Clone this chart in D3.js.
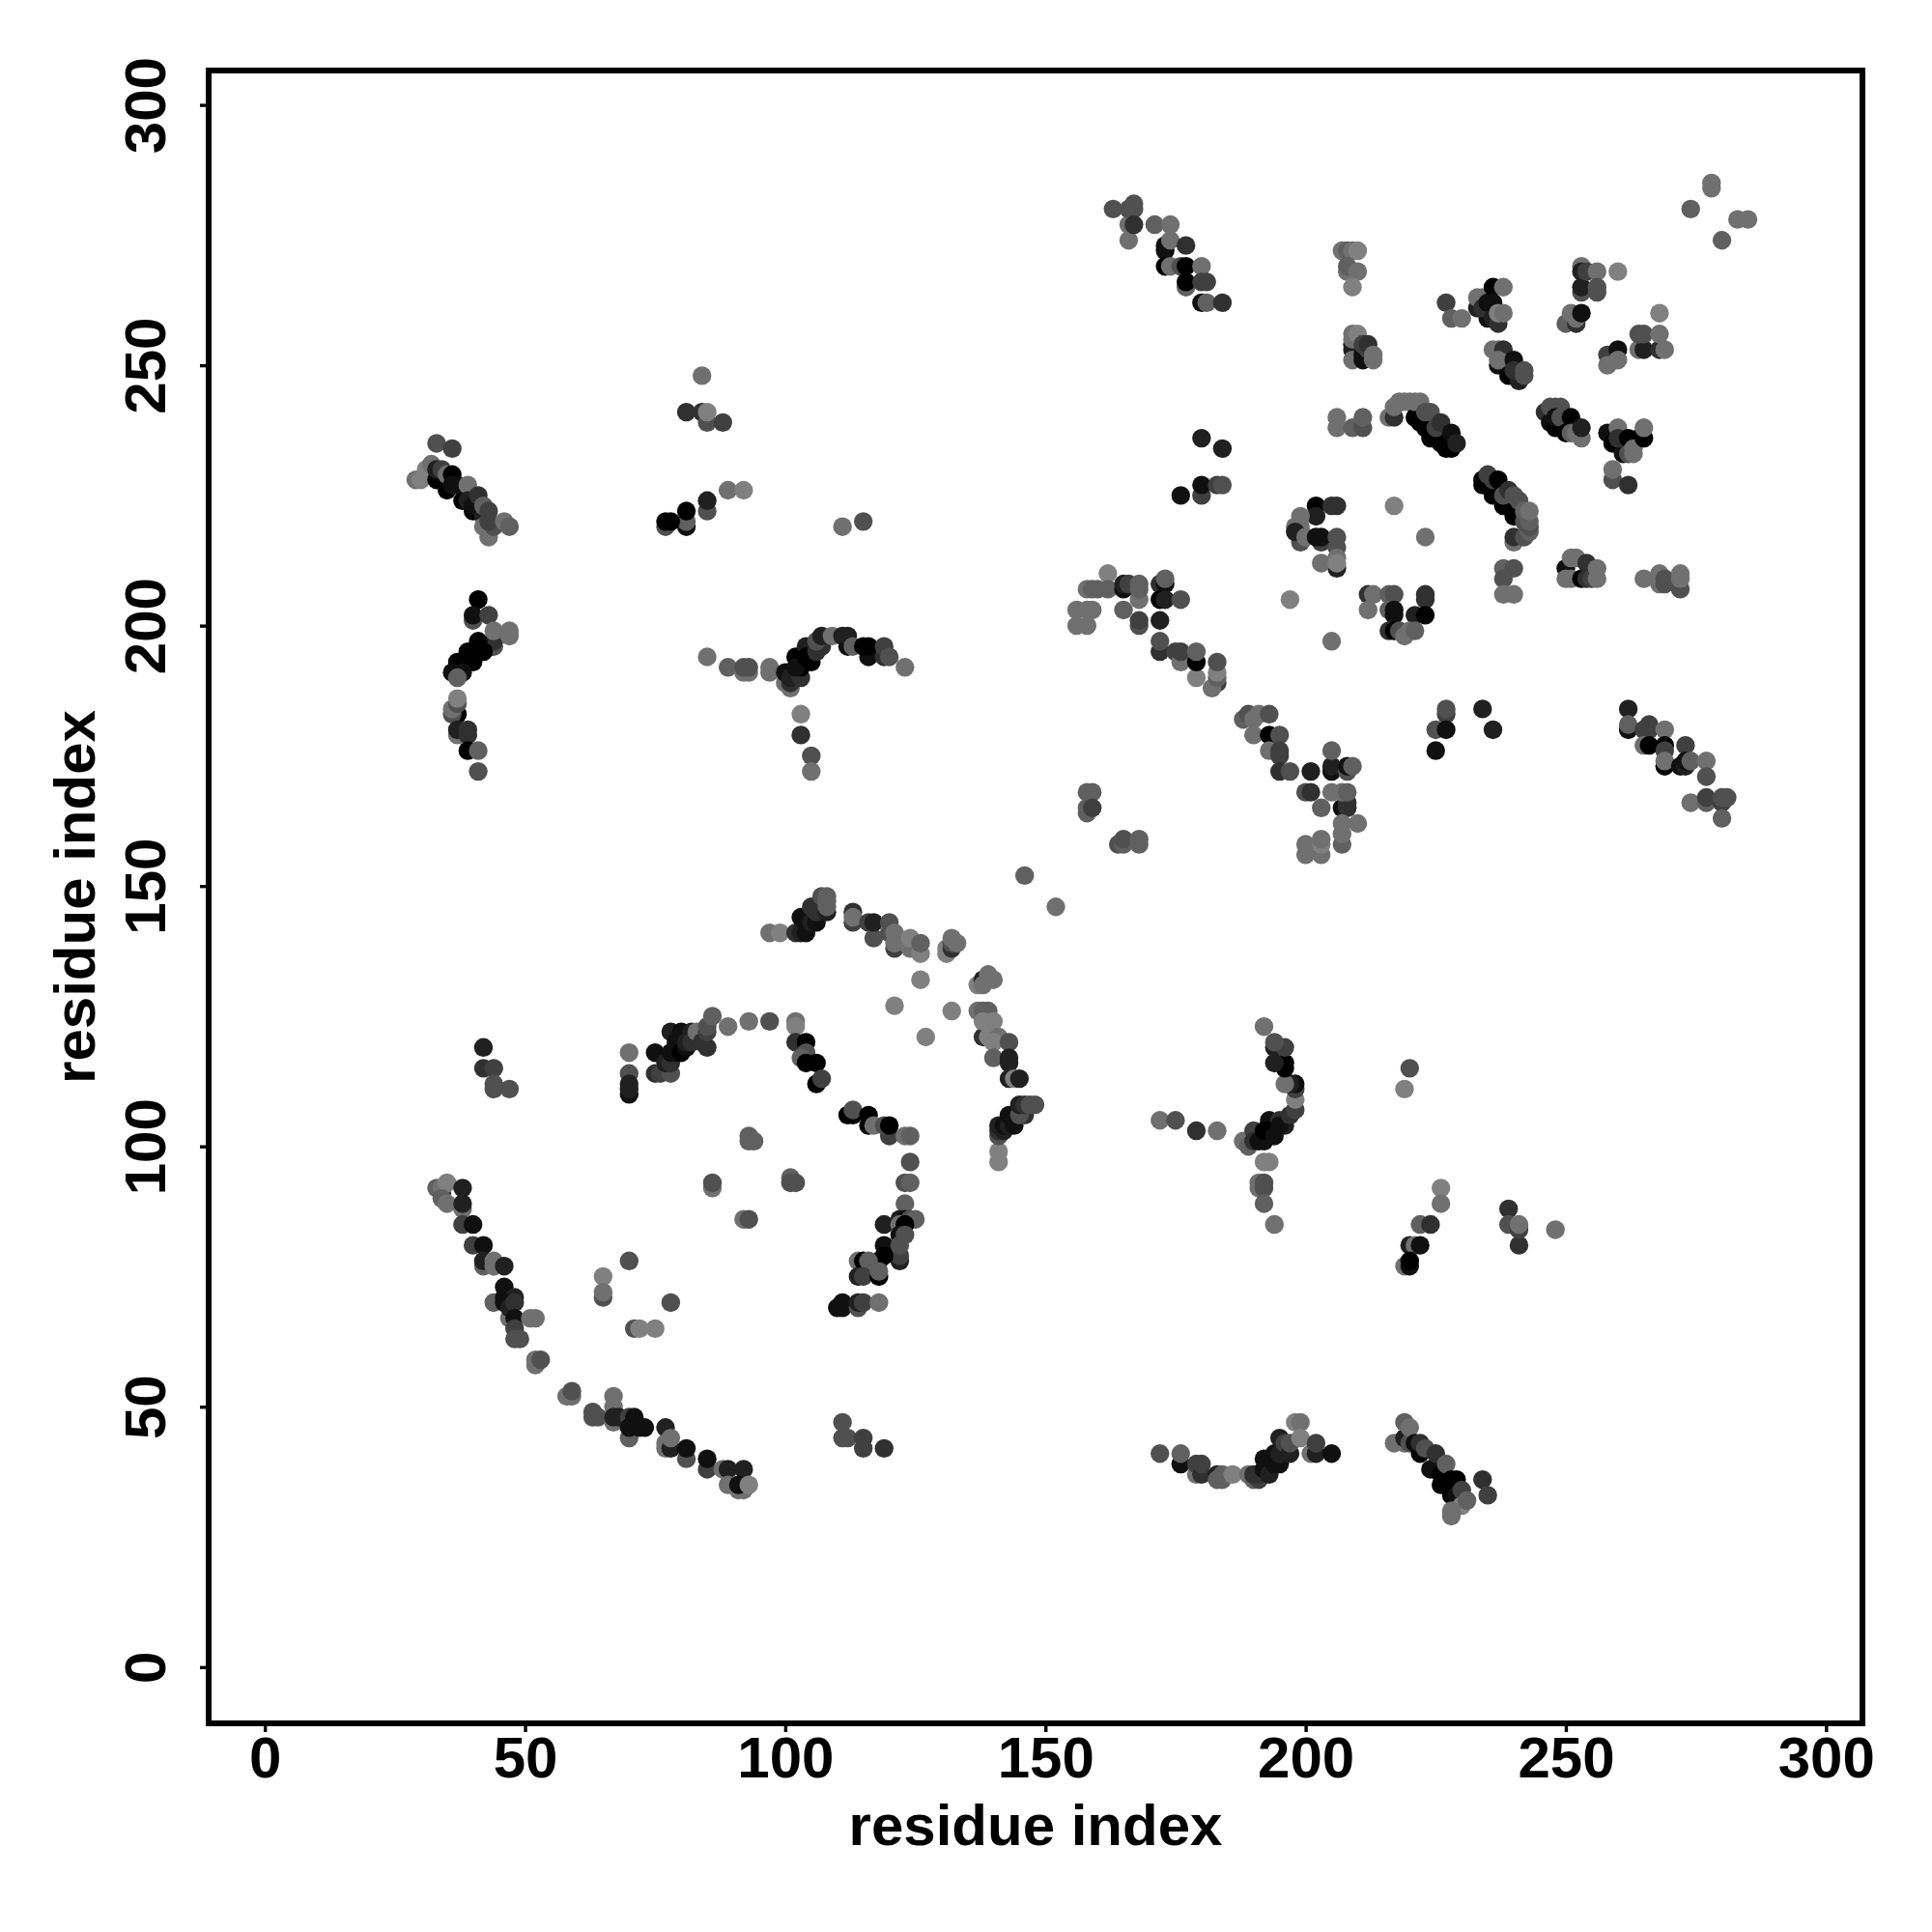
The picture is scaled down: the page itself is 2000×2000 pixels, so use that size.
<!DOCTYPE html>
<html><head><meta charset="utf-8"><style>html,body{margin:0;background:#fff}svg{display:block}</style>
<script src="https://cdn.jsdelivr.net/npm/d3@7"></script></head><body><svg id="c" width="2000" height="2000"></svg>
<script>
const tickValues = [0,50,100,150,200,250,300];
const axisTitle = "residue index";
// [residue i, residue j, contact strength 0..8]
const helixTopLeft = [[33,235,3],[36,234,4],[29,228,1],[30,228,0],[31,230,0],[32,231,1],[33,228,8],[33,230,6],[34,230,4],[35,226,8],[35,229,1],[36,229,8],[36,227,7],[38,224,8],[37,227,7],[39,227,1],[40,222,8],[39,224,6],[40,223,7],[41,225,5],[42,221,6],[42,223,2],[43,222,4],[42,219,1],[43,217,1],[44,219,3],[43,220,4],[46,220,1],[47,219,2]];
const arcLeft = [[41,205,8],[40,201,3],[40,202,7],[43,202,4],[44,196,3],[44,197,5],[44,199,1],[47,198,1],[47,199,1],[41,197,8],[42,195,8],[40,195,8],[39,193,6],[39,195,8],[40,193,8],[37,193,8],[38,191,7],[36,191,7],[37,190,2],[37,183,8],[36,183,3],[36,184,1],[37,185,3],[37,186,0],[37,179,1],[37,180,6],[39,180,5],[39,179,5],[39,176,8],[41,176,2],[41,172,3]];
const clusterUpperMid = [[84,248,1],[81,241,5],[84,241,5],[85,239,3],[85,241,0],[88,239,4],[89,226,1],[92,226,0],[85,222,3],[85,224,6],[81,219,7],[81,220,2],[81,222,8],[77,219,3],[77,220,8],[78,220,8],[111,219,1],[115,220,3]];
const arcTopMid = [[85,194,1],[89,192,2],[92,191,1],[93,191,1],[92,192,3],[93,192,3],[97,191,1],[97,192,1],[100,189,1],[101,188,1],[100,191,7],[101,189,5],[101,190,6],[102,194,8],[103,190,5],[103,192,8],[102,192,7],[105,193,8],[104,196,6],[104,194,8],[106,195,5],[107,196,5],[106,197,3],[107,198,6],[109,198,1],[111,198,6],[112,196,7],[112,198,6],[113,196,2],[116,194,7],[115,196,8],[116,196,8],[119,194,5],[119,196,4],[120,194,3],[123,192,1],[103,183,0],[103,179,5],[105,175,3],[105,172,1]];
const arcLowerLeft = [[34,91,7],[33,92,2],[34,92,1],[35,93,0],[34,90,2],[35,89,1],[38,88,1],[38,92,6],[38,89,6],[38,85,4],[40,85,7],[40,81,4],[42,81,7],[42,77,2],[42,78,6],[44,77,1],[44,78,1],[46,77,6],[44,70,2],[46,73,7],[47,67,1],[46,71,7],[48,71,6],[46,70,7],[47,69,6],[48,70,5],[48,67,7],[51,67,1],[52,67,1],[48,65,4],[48,63,3],[49,63,3],[52,58,1],[52,59,1],[53,59,3],[58,52,1],[59,52,1],[59,53,3],[63,49,3],[63,48,3],[64,48,3],[67,47,1],[67,52,1],[67,50,1],[67,48,6],[68,48,6],[70,44,2],[70,48,4],[70,46,7],[71,48,7],[71,47,7],[72,46,7],[73,46,7],[77,46,6],[77,43,1],[77,42,1],[78,42,6],[78,44,1],[81,40,3],[81,42,7],[85,38,4],[85,40,7],[88,38,1],[89,38,6],[92,38,6],[89,35,1],[91,34,1],[92,34,1],[91,35,7],[93,35,0]];
const scatterInner = [[86,92,1],[86,93,3],[101,94,2],[101,93,3],[102,93,3],[93,102,2],[93,101,2],[94,101,2],[92,86,1],[93,86,3],[65,75,0],[65,71,3],[65,72,1],[70,78,3],[78,70,3],[71,65,3],[72,65,0],[75,65,0]];
const arcInnerLower = [[112,106,8],[113,106,8],[113,107,3],[116,106,8],[116,104,8],[117,104,1],[120,102,4],[119,104,3],[120,104,8],[123,102,1],[124,102,2],[124,97,3],[123,93,3],[124,93,2],[123,89,2],[122,86,6],[123,86,7],[124,86,3],[125,86,2],[119,85,6],[122,85,1],[123,85,8],[122,83,7],[123,83,3],[119,81,7],[122,78,6],[122,79,4],[122,81,3],[119,79,8],[118,78,8],[114,78,1],[115,78,8],[116,78,2],[114,75,6],[115,75,4],[118,75,8],[118,76,2],[110,69,7],[111,69,7],[111,70,7],[114,69,3],[114,70,6],[115,70,4],[118,70,1]];
const arcOuterTop = [[97,141,1],[99,141,0],[102,141,5],[103,141,6],[104,141,7],[103,144,7],[104,143,7],[105,143,6],[106,143,7],[105,146,5],[106,145,5],[108,145,6],[107,148,3],[108,146,2],[108,147,2],[108,148,2],[113,143,4],[113,145,5],[113,144,1],[116,143,4],[117,140,3],[117,143,6],[120,143,3],[120,141,3],[121,138,4],[121,139,1],[121,141,1],[124,138,1],[124,140,0],[126,137,0],[126,139,2],[131,137,0],[131,138,0],[132,138,5],[132,139,3],[132,140,1],[133,139,1],[126,132,0],[146,152,2],[152,146,1],[121,127,0],[132,126,0],[127,121,0]];
const arcOuterRight = [[137,131,0],[138,132,6],[138,131,1],[139,133,1],[140,132,1],[137,126,1],[138,126,2],[139,126,2],[138,121,5],[138,124,0],[140,124,0],[139,121,0],[141,121,1],[140,120,0],[143,120,3],[140,117,2],[143,116,6],[143,117,6],[143,113,6],[144,113,0],[145,113,6],[141,97,0],[141,99,0],[141,102,3],[141,103,5],[142,103,6],[141,104,6],[142,104,7],[143,104,6],[144,104,7],[143,106,7],[146,106,5],[145,106,3],[145,108,6],[146,108,5],[147,108,3],[148,108,3]];
const arcInnerTop = [[70,118,1],[70,114,3],[70,110,7],[70,111,6],[70,112,6],[75,114,5],[76,114,4],[75,118,7],[78,114,3],[77,116,6],[78,116,5],[78,122,6],[78,118,7],[79,118,7],[79,120,7],[80,119,7],[80,122,7],[80,118,8],[81,119,7],[81,120,6],[82,122,6],[82,120,5],[83,121,5],[83,122,1],[84,120,5],[85,119,5],[85,122,4],[85,123,3],[86,125,2],[89,123,1],[93,124,1],[97,124,3],[102,124,1],[102,123,0],[102,120,5],[104,120,8],[104,118,3],[103,117,2],[104,116,8],[106,116,8],[106,112,8],[107,113,4],[42,119,6],[42,115,5],[44,115,4],[44,112,3],[44,111,3],[47,111,3],[111,47,3],[111,44,3],[112,44,3],[115,44,4],[115,42,4],[119,42,5]];
const arcRightMid = [[172,105,1],[175,105,3],[179,103,5],[183,103,1],[188,101,1],[189,100,2],[190,103,4],[190,101,5],[191,101,7],[192,101,7],[193,105,7],[192,103,8],[193,103,8],[194,102,7],[195,105,5],[196,105,5],[196,104,6],[195,104,7],[197,106,5],[198,107,4],[198,109,0],[198,111,4],[198,112,7],[197,112,6],[196,112,1],[196,115,8],[196,116,8],[194,116,6],[194,119,6],[196,119,4],[194,120,3],[192,123,1],[192,97,0],[193,97,0],[191,92,1],[191,93,1],[192,92,3],[192,93,3],[192,89,2],[194,85,1]];
const clusterLowerRight = [[220,115,3],[219,111,0],[226,92,0],[226,89,1],[222,85,2],[224,85,5],[220,81,6],[221,81,1],[222,81,7],[219,77,1],[220,77,7],[220,78,8],[239,88,5],[239,85,3],[241,81,5],[241,84,4],[241,85,1],[248,84,1]];
const arcBottom = [[172,41,3],[176,39,7],[176,41,2],[179,37,1],[179,39,4],[180,37,5],[180,39,4],[183,37,6],[183,36,2],[184,36,2],[184,37,2],[186,37,0],[189,37,1],[190,36,2],[191,36,4],[190,37,5],[191,37,5],[192,38,7],[192,40,7],[193,37,6],[194,39,7],[194,41,7],[195,39,7],[195,41,6],[195,44,6],[196,43,4],[197,41,6],[197,43,3],[198,47,0],[199,47,1],[199,44,0],[201,41,1],[202,41,6],[202,43,4],[205,41,7]];
const helixBottomRight = [[217,43,1],[219,43,1],[219,44,6],[219,47,2],[220,43,3],[220,46,1],[221,43,7],[222,41,8],[222,43,5],[223,42,3],[224,38,7],[225,41,5],[226,35,8],[226,37,8],[227,39,2],[228,33,8],[228,36,8],[229,36,8],[229,33,7],[230,34,4],[230,31,0],[231,32,2],[228,29,1],[228,30,1],[234,36,5],[235,33,4]];
const helixTop = [[163,280,3],[166,277,1],[166,274,1],[166,280,3],[167,280,3],[167,281,3],[167,277,5],[171,277,2],[174,277,1],[173,272,7],[173,273,7],[174,274,1],[177,273,5],[173,269,8],[174,269,1],[176,269,3],[177,265,2],[177,269,8],[180,269,1],[177,266,8],[180,266,4],[181,266,4],[180,262,7],[181,262,2],[184,262,5],[180,236,6],[184,234,6],[176,225,7],[180,225,4],[180,227,7],[183,227,4],[184,227,3]];
const blockUpperRight = [[207,272,1],[208,272,2],[209,272,1],[210,272,0],[208,268,1],[208,269,2],[210,268,1],[209,265,0],[209,254,7],[209,253,6],[209,251,1],[209,255,1],[209,256,1],[210,256,0],[211,251,7],[211,252,7],[211,254,4],[212,253,4],[212,254,5],[213,251,1],[213,252,1],[206,238,1],[206,240,1],[209,238,2],[211,238,3],[211,240,2]];
const helixCentral = [[216,240,1],[217,240,5],[217,242,1],[218,243,1],[219,243,1],[220,243,1],[221,240,8],[222,239,8],[221,243,1],[222,243,1],[223,238,8],[224,236,8],[226,235,8],[227,234,8],[223,241,3],[224,241,3],[225,238,4],[226,239,5],[228,234,8],[228,237,7],[229,235,6],[217,223,0],[223,217,1]];
const clusterTopRight = [[227,262,4],[228,259,2],[230,259,1],[233,261,6],[235,259,7],[233,263,1],[234,263,1],[234,261,5],[235,262,7],[236,265,8],[236,259,6],[236,262,7],[237,258,5],[238,265,1],[237,260,0],[238,260,1],[237,250,7],[238,251,6],[236,253,1],[237,253,1],[238,253,5],[237,251,1],[240,251,7],[239,248,8],[241,247,6],[240,249,5],[242,248,3],[242,249,3],[253,264,3],[253,265,6],[253,269,1],[253,268,6],[254,268,4],[256,268,1],[260,268,0],[256,264,3],[256,265,3],[250,258,2],[251,260,1],[252,258,5],[252,259,1],[253,260,7],[258,252,4],[258,250,1],[260,253,7],[260,251,1],[264,253,1],[265,253,6],[264,256,3],[265,256,3],[268,253,5],[268,256,1],[269,253,1],[268,260,0],[274,280,2],[278,284,1],[278,285,1],[280,274,2],[283,278,1],[285,278,1]];
const helixRight = [[246,241,5],[247,239,7],[248,238,8],[247,242,3],[248,242,3],[249,242,3],[248,240,7],[249,240,3],[250,237,8],[251,240,8],[251,237,2],[252,237,1],[253,236,1],[253,238,6],[258,237,7],[259,235,8],[261,233,7],[260,238,1],[260,236,5],[264,236,8],[262,236,8],[262,233,3],[263,233,1],[263,234,1],[265,236,8],[265,238,1],[259,228,3],[259,230,1],[262,227,5]];
const helixDiagonal = [[234,227,8],[234,228,8],[235,229,4],[236,225,8],[236,228,4],[237,228,8],[238,223,8],[238,225,3],[239,226,5],[240,221,8],[240,225,3],[241,224,3],[240,216,1],[240,217,5],[242,217,3],[243,218,2],[243,219,3],[242,220,3],[243,220,2],[242,222,2],[243,222,1],[238,211,2],[240,211,3],[238,209,3],[238,206,1],[240,206,1]];
const blockRight = [[250,211,7],[251,213,1],[252,213,1],[250,209,1],[251,209,1],[253,209,8],[254,212,5],[254,209,5],[255,209,4],[256,211,1],[256,209,1],[265,209,1],[268,210,1],[268,208,1],[269,208,3],[269,209,3],[272,207,3],[272,209,1],[272,210,1]];
const blockMid = [[202,223,8],[202,221,6],[205,223,5],[206,223,5],[199,221,1],[198,219,1],[199,219,1],[199,216,3],[198,218,6],[200,217,1],[203,216,4],[202,217,7],[203,217,7],[206,217,3],[206,215,3],[206,211,6],[203,212,1],[206,213,1],[206,212,0],[197,205,0]];
const helixLong = [[162,210,0],[158,207,1],[159,207,2],[160,207,2],[162,207,2],[165,207,7],[165,208,6],[166,208,4],[168,205,1],[168,207,2],[168,208,2],[165,203,2],[168,200,3],[168,201,4],[172,208,5],[173,208,7],[173,209,2],[172,205,8],[173,205,6],[176,205,3],[172,201,6],[156,203,1],[158,203,1],[159,203,1],[156,200,1],[158,200,1],[172,195,5],[172,197,3],[175,195,4],[176,193,1],[176,195,4],[179,190,0],[179,193,8],[179,195,2],[183,189,4],[182,188,1],[183,190,2],[183,191,0],[183,193,3],[188,182,2],[189,183,3],[190,182,1],[191,183,1],[193,183,3],[190,179,1],[193,179,8],[195,179,3],[193,176,1],[195,175,4],[195,176,4],[195,172,5],[197,172,3],[201,172,6],[205,172,7],[205,173,6],[205,176,2],[208,172,3],[208,173,7],[209,173,2],[200,168,3],[201,168,5],[205,168,1],[207,165,7],[208,165,5],[208,166,5],[207,168,1],[208,168,2],[203,165,2],[210,162,1],[207,158,2],[207,160,1],[207,162,1],[200,156,1],[200,158,1],[203,156,1],[203,158,0],[203,159,1],[158,164,2],[158,165,2],[158,168,2],[159,168,2],[159,165,4],[164,158,3],[165,158,2],[165,159,3],[168,158,2],[168,159,2]];
const blockInner = [[212,206,5],[213,206,1],[216,206,2],[217,206,3],[212,203,1],[216,203,2],[217,202,7],[217,203,7],[221,202,6],[223,205,5],[223,206,5],[223,202,8],[216,199,5],[217,199,8],[218,199,3],[219,198,1],[220,199,1],[221,199,2],[205,197,1],[227,183,4],[227,184,3],[225,180,3],[227,180,7],[225,176,7],[234,184,6],[236,180,6]];
const helixFarRight = [[262,184,6],[262,180,7],[262,181,2],[265,180,4],[266,180,4],[266,181,4],[265,177,1],[266,177,8],[269,180,1],[269,177,8],[269,173,8],[269,176,4],[269,174,1],[273,177,4],[272,173,7],[273,173,6],[273,174,7],[274,174,2],[277,174,1],[277,171,3],[274,166,1],[277,166,2],[277,167,4],[280,166,4],[280,167,3],[281,167,3],[280,163,2]];

const contacts = [helixTopLeft,arcLeft,clusterUpperMid,arcTopMid,arcLowerLeft,scatterInner,arcInnerLower,arcOuterTop,arcOuterRight,arcInnerTop,arcRightMid,clusterLowerRight,arcBottom,helixBottomRight,helixTop,blockUpperRight,helixCentral,clusterTopRight,helixRight,helixDiagonal,blockRight,blockMid,helixLong,blockInner,helixFarRight].flat();

const svg = d3.select("#c");
const L=216,R=1928,T=73,B=1784;
const x = d3.scaleLinear([-10.8,307],[L,R]);
const y = d3.scaleLinear([-10.8,306.6],[B,T]);
const shade = d3.scaleLinear([0,8],["#808080","#000000"]);
const font = "'Liberation Sans',Arial,sans-serif";

svg.append("g").selectAll("circle").data(contacts).join("circle")
  .attr("cx",d=>x(d[0])).attr("cy",d=>y(d[1])).attr("r",9.7).attr("fill",d=>shade(d[2]));

svg.append("rect").attr("x",L).attr("y",T).attr("width",R-L).attr("height",B-T)
  .attr("fill","none").attr("stroke","#000").attr("stroke-width",6);

const gx = svg.append("g").attr("transform",`translate(0,${B})`)
  .call(d3.axisBottom(x).tickValues(tickValues).tickSize(9).tickPadding(4).tickFormat(d3.format("d")));
const gy = svg.append("g").attr("transform",`translate(${L},0)`)
  .call(d3.axisLeft(y).tickValues(tickValues).tickSize(9).tickFormat(d3.format("d")));
gx.select(".domain").remove(); gy.select(".domain").remove();
svg.selectAll(".tick line").attr("stroke","#000").attr("stroke-width",3.4);
svg.selectAll(".tick text").attr("fill","#000").style("font-family",font).style("font-weight","bold").style("font-size","60px");
gy.selectAll(".tick text").attr("transform","rotate(-90)").attr("x",0).attr("y",-45).attr("dy",0).attr("text-anchor","middle");

svg.append("text").attr("x",(L+R)/2).attr("y",1910).attr("text-anchor","middle").text(axisTitle)
  .style("font-family",font).style("font-weight","bold").style("font-size","60px");
svg.append("text").attr("transform",`translate(98,${(T+B)/2}) rotate(-90)`).attr("text-anchor","middle").text(axisTitle)
  .style("font-family",font).style("font-weight","bold").style("font-size","60px");
</script></body></html>
